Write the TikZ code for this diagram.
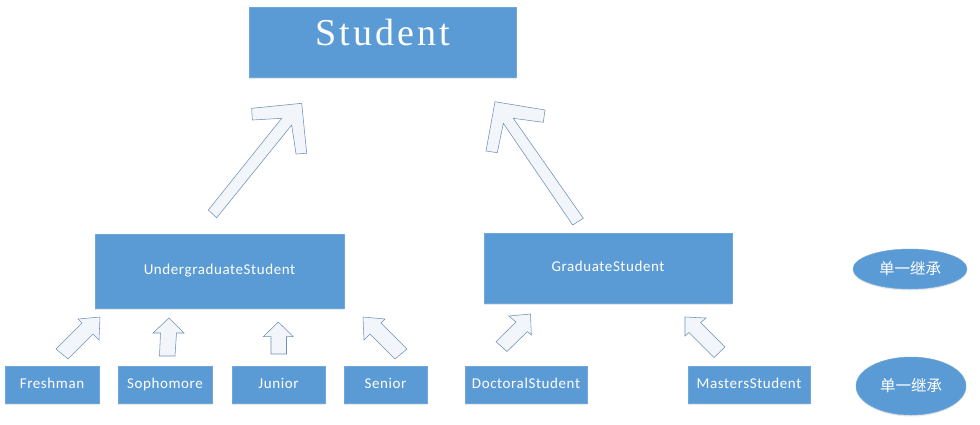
\documentclass[tikz,border=0pt]{standalone}
\usepackage{fontspec}
\setmainfont[LetterSpace=4]{Carlito}
\newfontfamily\titlefont[LetterSpace=8]{Liberation Serif}
\newfontfamily\cjk{Noto Sans CJK SC}
\usetikzlibrary{shapes.geometric,shadows}
\definecolor{boxblue}{HTML}{5B9BD5}
\definecolor{boxline}{HTML}{6FA7DA}
\definecolor{arrowfill}{HTML}{F2F6FB}
\definecolor{arrowline}{HTML}{7090B8}
\tikzset{
  cls/.style={rectangle, fill=boxblue, draw=boxline, line width=0.5pt,
    text=white, inner sep=0pt, text height=10.5pt, text depth=3.5pt,
    drop shadow={opacity=0.18, shadow xshift=0pt, shadow yshift=-1.5pt}},
  bigcls/.style={cls, font=\fontsize{15}{18}\selectfont},
  smallcls/.style={cls, minimum height=37pt, font=\fontsize{15}{18}\selectfont},
  tag/.style={ellipse, fill=boxblue, draw=boxline, line width=0.5pt, inner sep=0pt,
    text=white, font=\cjk\fontsize{15.5}{18}\selectfont,
    drop shadow={opacity=0.18, shadow xshift=0pt, shadow yshift=-1.5pt}},
  blockarrow/.style={fill=arrowfill, draw=arrowline, line width=0.55pt, line join=miter}
}
\begin{document}
\begin{tikzpicture}[x=1pt,y=-1pt]
\useasboundingbox (0,0) rectangle (980,424);
\fill[white] (0,0) rectangle (980,424);

% classes
\node[cls, minimum width=267pt, minimum height=70pt] (student) at (382.5,42) {};
\node[text=white, inner sep=0pt, font=\titlefont\fontsize{38}{40}\selectfont]
  (studentlabel) at ([yshift=10pt]student.center) {Student};

\node[bigcls, minimum width=249pt, minimum height=74pt] (under) at (219.5,271) {UndergraduateStudent};
\node[bigcls, minimum width=248pt, minimum height=70pt] (grad) at (608,268) {GraduateStudent};

\node[smallcls, minimum width=94pt] (fresh) at (52,384.5) {Freshman};
\node[smallcls, minimum width=94pt] (soph) at (165,384.5) {Sophomore};
\node[smallcls, minimum width=93pt] (junior) at (278.5,384.5) {Junior};
\node[smallcls, minimum width=83pt] (senior) at (385.5,384.5) {Senior};
\node[smallcls, minimum width=122pt] (doc) at (526,384.5) {DoctoralStudent};
\node[smallcls, minimum width=122pt] (mast) at (749,384.5) {MastersStudent};

\node[tag, minimum width=114pt, minimum height=40pt] (tag1) at (910,269) {单一继承};
\node[tag, minimum width=110pt, minimum height=58pt] (tag2) at (911,386) {单一继承};

% block arrows
% UndergraduateStudent -> Student
\draw[blockarrow] (301.7,103.3) -- (251.7,108.3) -- (252.3,120) -- (281.7,118.3)
  -- (208.3,210) -- (216.7,217.7) -- (291.7,125) -- (296,154) -- (306.7,153.3) -- cycle;
% GraduateStudent -> Student
\draw[blockarrow] (495,101.7) -- (545,110) -- (543.3,122.3) -- (513.3,118.3)
  -- (583.3,218.3) -- (572.7,225) -- (503.3,123.3) -- (497.3,152.7) -- (486,151) -- cycle;
% Freshman
\draw[blockarrow] (100,317) -- (78,319) -- (82,323) -- (56,349) -- (68,359)
  -- (93,334) -- (99,340) -- cycle;
% Sophomore
\draw[blockarrow] (169,318) -- (153,333) -- (160.5,333) -- (159.5,356) -- (175,356)
  -- (176.5,333) -- (184,333) -- cycle;
% Junior
\draw[blockarrow] (278.3,322) -- (263.3,336.7) -- (271,336.7) -- (271,354) -- (286.5,354)
  -- (286.5,336.7) -- (293.3,336.7) -- cycle;
% Senior
\draw[blockarrow] (363,317) -- (385,319) -- (381,323) -- (407,349) -- (395,359)
  -- (370,334) -- (364,340) -- cycle;
% DoctoralStudent
\draw[blockarrow] (530.5,314) -- (508.8,316) -- (516,322) -- (496,341.7) -- (507,351.5)
  -- (527.3,331.7) -- (531.3,335) -- cycle;
% MastersStudent
\draw[blockarrow] (685,317) -- (706,318) -- (700.6,322.6) -- (725,347) -- (714,357.5)
  -- (689,332.5) -- (685,336) -- cycle;
\end{tikzpicture}
\end{document}
